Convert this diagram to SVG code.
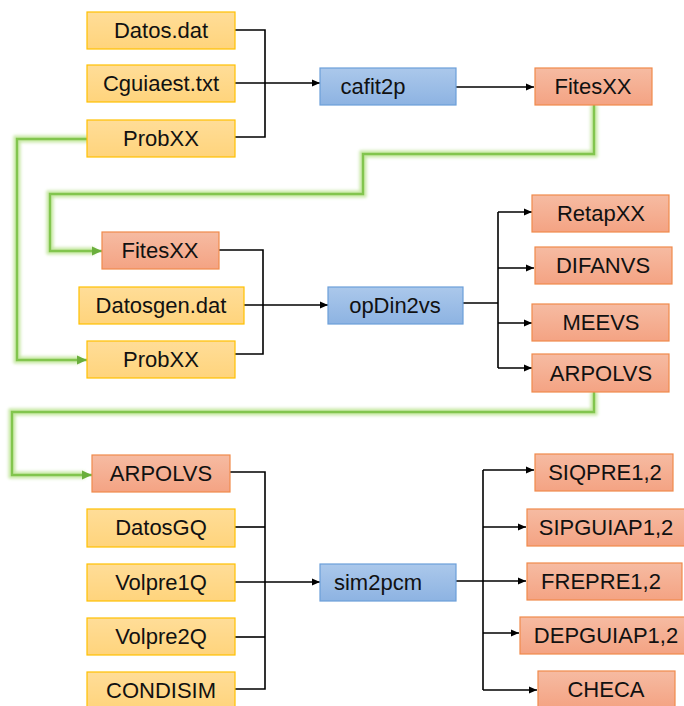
<svg xmlns="http://www.w3.org/2000/svg" width="684" height="706" viewBox="0 0 684 706">
<defs>
<linearGradient id="gy" x1="0" y1="0" x2="0" y2="1"><stop offset="0" stop-color="#FFDD98"/><stop offset="1" stop-color="#FFD47C"/></linearGradient>
<linearGradient id="go" x1="0" y1="0" x2="0" y2="1"><stop offset="0" stop-color="#F6BBA2"/><stop offset="1" stop-color="#F4A383"/></linearGradient>
<linearGradient id="gb" x1="0" y1="0" x2="0" y2="1"><stop offset="0" stop-color="#ABC8EB"/><stop offset="1" stop-color="#8DB3E2"/></linearGradient>
<marker id="ab" markerUnits="userSpaceOnUse" markerWidth="10" markerHeight="10" refX="9" refY="5" orient="auto"><path d="M1,1.5 L9,5 L1,8.5 Z" fill="#000"/></marker>
<marker id="ag" markerUnits="userSpaceOnUse" markerWidth="12" markerHeight="12" refX="11" refY="6" orient="auto"><path d="M1,1.5 L11,6 L1,10.5 Z" fill="#6AAE3C"/></marker>
<filter id="glow" x="-10%" y="-10%" width="120%" height="120%"><feGaussianBlur stdDeviation="1.8"/></filter>
<style>
.y{fill:url(#gy);stroke:#FFC000;stroke-width:1.2}
.o{fill:url(#go);stroke:#F08A4B;stroke-width:1.2}
.b{fill:url(#gb);stroke:#6C9FD9;stroke-width:1.2}
text{font-family:"Liberation Sans",Arial,sans-serif;font-size:22px;fill:#111;text-anchor:middle}
.c{fill:none;stroke:#000;stroke-width:1.6}
.gw{fill:none;stroke:#B8E28C;stroke-width:7;opacity:0.8;filter:url(#glow)}
.g{fill:none;stroke:#82C54E;stroke-width:2.4}
</style>
</defs>
<g id="connectors">
<g id="green-glow">
<path class="gw" d="M88,139 H17 V360 H80"/>
<path class="gw" d="M594,105 V154 H363 V194 H50 V251 H95"/>
<path class="gw" d="M594,392 V412 H12 V475 H85"/>
</g>
<path class="g" d="M88,139 H17 V360 H87" marker-end="url(#ag)"/>
<path class="g" d="M594,105 V154 H363 V194 H50 V251 H102" marker-end="url(#ag)"/>
<path class="g" d="M594,392 V412 H12 V475 H92" marker-end="url(#ag)"/>
<path class="c" d="M235,30 H265 V137 H235"/>
<path class="c" d="M235,83 H320" marker-end="url(#ab)"/>
<path class="c" d="M456,87 H534" marker-end="url(#ab)"/>
<path class="c" d="M219,250 H263 V354 H233"/>
<path class="c" d="M244,305 H328" marker-end="url(#ab)"/>
<path class="c" d="M463,303 H498"/>
<path class="c" d="M498,212 V368"/>
<path class="c" d="M498,212 H532" marker-end="url(#ab)"/>
<path class="c" d="M498,268 H534" marker-end="url(#ab)"/>
<path class="c" d="M498,323 H532" marker-end="url(#ab)"/>
<path class="c" d="M498,368 H532" marker-end="url(#ab)"/>
<path class="c" d="M230,472 H265 V689 H233"/>
<path class="c" d="M235,527 H265"/>
<path class="c" d="M235,637 H265"/>
<path class="c" d="M235,582 H320" marker-end="url(#ab)"/>
<path class="c" d="M456,581 H526" marker-end="url(#ab)"/>
<path class="c" d="M483,470 V690"/>
<path class="c" d="M483,470 H534" marker-end="url(#ab)"/>
<path class="c" d="M483,527 H526" marker-end="url(#ab)"/>
<path class="c" d="M483,633 H519" marker-end="url(#ab)"/>
<path class="c" d="M483,690 H537" marker-end="url(#ab)"/>
</g>
<g id="datos-dat"><rect class="y" x="87" y="12" width="148" height="37"/><text x="161" y="38">Datos.dat</text></g>
<g id="cguiaest-txt"><rect class="y" x="87" y="65" width="148" height="37"/><text x="161" y="91">Cguiaest.txt</text></g>
<g id="probxx-1"><rect class="y" x="87" y="120" width="148" height="37"/><text x="161" y="146">ProbXX</text></g>
<g id="cafit2p"><rect class="b" x="320" y="68" width="136" height="37"/><text x="373" y="94">cafit2p</text></g>
<g id="fitesxx-1"><rect class="o" x="535" y="68" width="117" height="37"/><text x="593" y="94">FitesXX</text></g>
<g id="fitesxx-2"><rect class="o" x="102" y="232" width="117" height="37"/><text x="160" y="258">FitesXX</text></g>
<g id="datosgen-dat"><rect class="y" x="79" y="287" width="165" height="37"/><text x="161" y="313">Datosgen.dat</text></g>
<g id="probxx-2"><rect class="y" x="87" y="341" width="148" height="37"/><text x="161" y="367">ProbXX</text></g>
<g id="opdin2vs"><rect class="b" x="328" y="287" width="135" height="37"/><text x="395" y="313">opDin2vs</text></g>
<g id="retapxx"><rect class="o" x="532" y="195" width="137" height="37"/><text x="601" y="221">RetapXX</text></g>
<g id="difanvs"><rect class="o" x="535" y="247" width="137" height="37"/><text x="603" y="273">DIFANVS</text></g>
<g id="meevs"><rect class="o" x="532" y="304" width="137" height="37"/><text x="601" y="330">MEEVS</text></g>
<g id="arpolvs-1"><rect class="o" x="532" y="354" width="137" height="38"/><text x="601" y="381">ARPOLVS</text></g>
<g id="arpolvs-2"><rect class="o" x="92" y="455" width="138" height="37"/><text x="161" y="481">ARPOLVS</text></g>
<g id="datosgq"><rect class="y" x="87" y="509" width="148" height="38"/><text x="161" y="535">DatosGQ</text></g>
<g id="volpre1q"><rect class="y" x="87" y="564" width="148" height="37"/><text x="161" y="590">Volpre1Q</text></g>
<g id="volpre2q"><rect class="y" x="87" y="618" width="148" height="37"/><text x="161" y="644">Volpre2Q</text></g>
<g id="condisim"><rect class="y" x="87" y="672" width="148" height="37"/><text x="161" y="698">CONDISIM</text></g>
<g id="sim2pcm"><rect class="b" x="320" y="564" width="136" height="37"/><text x="378" y="590">sim2pcm</text></g>
<g id="siqpre"><rect class="o" x="535" y="454" width="138" height="37"/><text x="605" y="480">SIQPRE1,2</text></g>
<g id="sipguiap"><rect class="o" x="527" y="509" width="158" height="37"/><text x="606" y="535">SIPGUIAP1,2</text></g>
<g id="frepre"><rect class="o" x="527" y="563" width="155" height="37"/><text x="601" y="589">FREPRE1,2</text></g>
<g id="depguiap"><rect class="o" x="520" y="617" width="165" height="37"/><text x="606" y="643">DEPGUIAP1,2</text></g>
<g id="checa"><rect class="o" x="538" y="671" width="137" height="37"/><text x="606" y="697">CHECA</text></g>
</svg>
